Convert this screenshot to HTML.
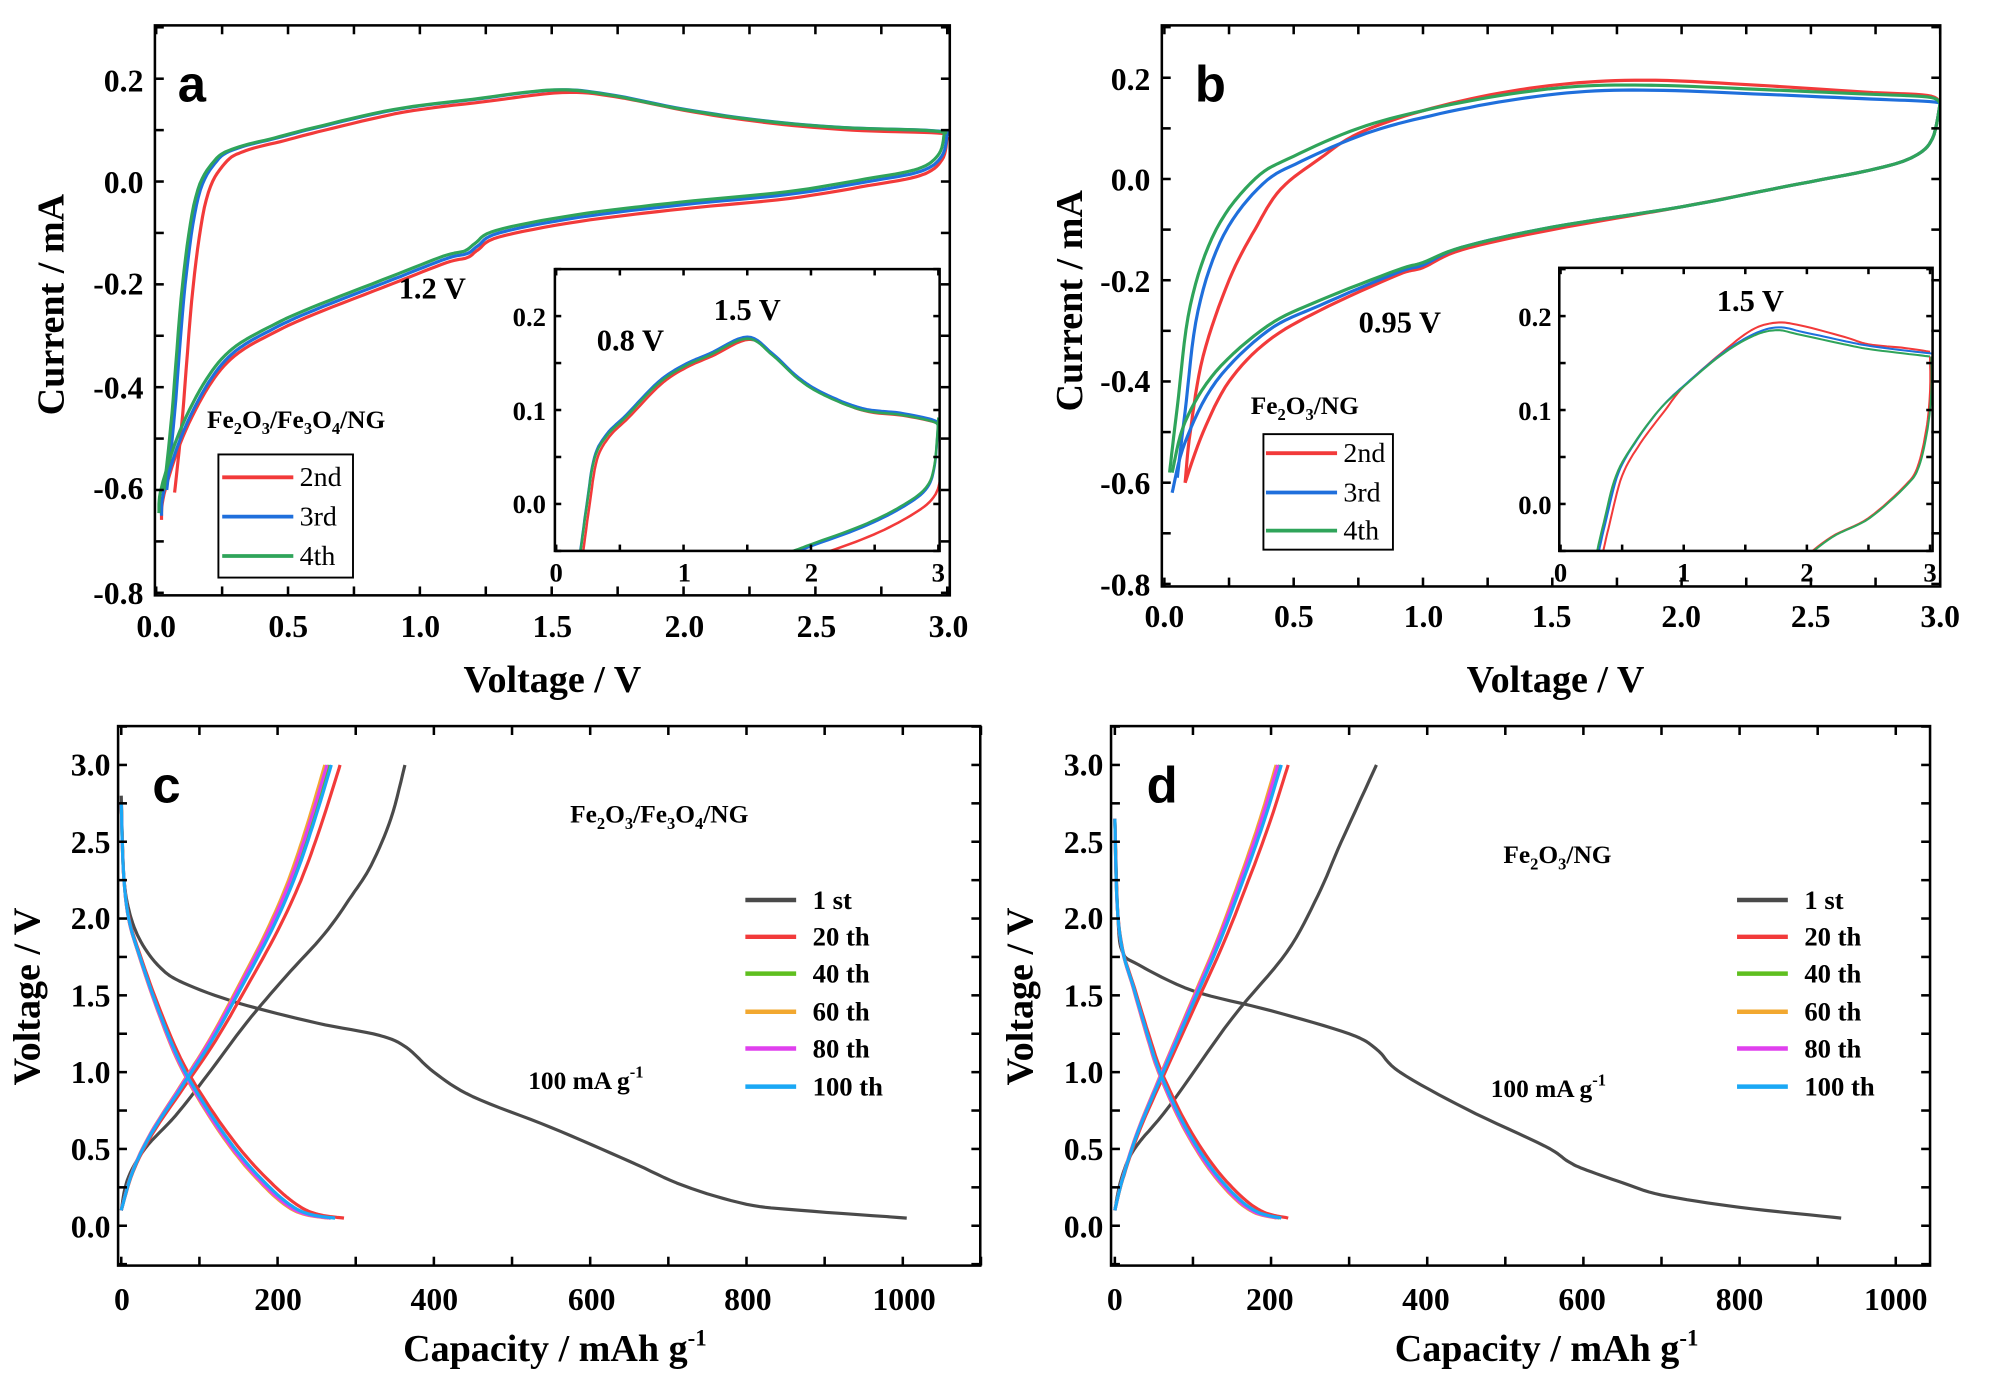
<!DOCTYPE html>
<html><head><meta charset="utf-8"><style>
html,body{margin:0;padding:0;background:#fff;}
svg{display:block;}
text{font-family:"Liberation Serif",serif;font-weight:bold;fill:#000;}
.sans{font-family:"Liberation Sans",sans-serif;}
</style></head><body>
<svg id="s" width="1991" height="1390" viewBox="0 0 1568 1095" preserveAspectRatio="none" xmlns="http://www.w3.org/2000/svg">
<g id="curves"></g>
<g id="axes" fill="none" stroke="#000" stroke-width="2"></g>
<g font-size="25" text-anchor="end">
<text x="113" y="72">0.2</text><text x="113" y="152">0.0</text><text x="113" y="232">-0.2</text><text x="113" y="314">-0.4</text><text x="113" y="393">-0.6</text><text x="113" y="476">-0.8</text>
<text x="906" y="71">0.2</text><text x="906" y="150">0.0</text><text x="906" y="230">-0.2</text><text x="906" y="309">-0.4</text><text x="906" y="389">-0.6</text><text x="906" y="469">-0.8</text>
<text x="87" y="611">3.0</text><text x="87" y="672">2.5</text><text x="87" y="732">2.0</text><text x="87" y="793">1.5</text><text x="87" y="853">1.0</text><text x="87" y="914">0.5</text><text x="87" y="975">0.0</text>
<text x="869" y="611">3.0</text><text x="869" y="672">2.5</text><text x="869" y="732">2.0</text><text x="869" y="793">1.5</text><text x="869" y="853">1.0</text><text x="869" y="914">0.5</text><text x="869" y="975">0.0</text>
</g>
<g font-size="25" text-anchor="middle">
<text x="123" y="502">0.0</text><text x="227" y="502">0.5</text><text x="331" y="502">1.0</text><text x="435" y="502">1.5</text><text x="539" y="502">2.0</text><text x="643" y="502">2.5</text><text x="747" y="502">3.0</text>
<text x="917" y="494">0.0</text><text x="1019" y="494">0.5</text><text x="1121" y="494">1.0</text><text x="1222" y="494">1.5</text><text x="1324" y="494">2.0</text><text x="1426" y="494">2.5</text><text x="1528" y="494">3.0</text>
<text x="96" y="1032">0</text><text x="219" y="1032">200</text><text x="342" y="1032">400</text><text x="466" y="1032">600</text><text x="589" y="1032">800</text><text x="712" y="1032">1000</text>
<text x="878" y="1032">0</text><text x="1000" y="1032">200</text><text x="1123" y="1032">400</text><text x="1246" y="1032">600</text><text x="1370" y="1032">800</text><text x="1493" y="1032">1000</text>
</g>
<g font-size="21" text-anchor="end">
<text x="430" y="257">0.2</text><text x="430" y="331">0.1</text><text x="430" y="404">0.0</text>
<text x="1222" y="257">0.2</text><text x="1222" y="331">0.1</text><text x="1222" y="405">0.0</text>
</g>
<g font-size="21" text-anchor="middle">
<text x="438" y="458">0</text><text x="539" y="458">1</text><text x="639" y="458">2</text><text x="739" y="458">3</text>
<text x="1229" y="458">0</text><text x="1326" y="458">1</text><text x="1423" y="458">2</text><text x="1520" y="458">3</text>
</g>
<g font-size="30" text-anchor="middle">
<text x="435" y="545">Voltage / V</text>
<text x="1225" y="545">Voltage / V</text>
<text x="437" y="1072">Capacity / mAh g<tspan dy="-12" font-size="18">-1</tspan></text>
<text x="1218" y="1072">Capacity / mAh g<tspan dy="-12" font-size="18">-1</tspan></text>
<text transform="translate(50,240) rotate(-90)">Current / mA</text>
<text transform="translate(852,237) rotate(-90)">Current / mA</text>
<text transform="translate(31,785) rotate(-90)">Voltage / V</text>
<text transform="translate(813,785) rotate(-90)">Voltage / V</text>
</g>
<g class="sans" font-size="40">
<text class="sans" x="140" y="80">a</text>
<text class="sans" x="941" y="80">b</text>
<text class="sans" x="120" y="632">c</text>
<text class="sans" x="903" y="632">d</text>
</g>
<g font-size="24">
<text x="314" y="235">1.2 V</text>
<text x="470" y="276">0.8 V</text>
<text x="562" y="252">1.5 V</text>
<text x="1070" y="262">0.95 V</text>
<text x="1352" y="245">1.5 V</text>
</g>
<g font-size="20">
<text x="163" y="337">Fe<tspan dy="5" font-size="13">2</tspan><tspan dy="-5">O</tspan><tspan dy="5" font-size="13">3</tspan><tspan dy="-5">/Fe</tspan><tspan dy="5" font-size="13">3</tspan><tspan dy="-5">O</tspan><tspan dy="5" font-size="13">4</tspan><tspan dy="-5">/NG</tspan></text>
<text x="985" y="326">Fe<tspan dy="5" font-size="13">2</tspan><tspan dy="-5">O</tspan><tspan dy="5" font-size="13">3</tspan><tspan dy="-5">/NG</tspan></text>
<text x="449" y="648">Fe<tspan dy="5" font-size="13">2</tspan><tspan dy="-5">O</tspan><tspan dy="5" font-size="13">3</tspan><tspan dy="-5">/Fe</tspan><tspan dy="5" font-size="13">3</tspan><tspan dy="-5">O</tspan><tspan dy="5" font-size="13">4</tspan><tspan dy="-5">/NG</tspan></text>
<text x="1184" y="680">Fe<tspan dy="5" font-size="13">2</tspan><tspan dy="-5">O</tspan><tspan dy="5" font-size="13">3</tspan><tspan dy="-5">/NG</tspan></text>
<text x="416" y="858">100 mA g<tspan dy="-9" font-size="13">-1</tspan></text>
<text x="1174" y="864">100 mA g<tspan dy="-9" font-size="13">-1</tspan></text>
</g>
<g font-size="22">
<text x="236" y="383" style="font-weight:normal">2nd</text><text x="236" y="414" style="font-weight:normal">3rd</text><text x="236" y="445" style="font-weight:normal">4th</text>
<text x="1058" y="364" style="font-weight:normal">2nd</text><text x="1058" y="395" style="font-weight:normal">3rd</text><text x="1058" y="425" style="font-weight:normal">4th</text>
</g>
<g font-size="21">
<text x="640" y="716">1 st</text><text x="640" y="745">20 th</text><text x="640" y="774">40 th</text><text x="640" y="804">60 th</text><text x="640" y="833">80 th</text><text x="640" y="863">100 th</text>
<text x="1421" y="716">1 st</text><text x="1421" y="745">20 th</text><text x="1421" y="774">40 th</text><text x="1421" y="804">60 th</text><text x="1421" y="833">80 th</text><text x="1421" y="863">100 th</text>
</g>
</svg>
<script>
var NS="http://www.w3.org/2000/svg";
var C=document.getElementById('curves'),A=document.getElementById('axes');
function el(p,tag,at){var e=document.createElementNS(NS,tag);for(var k in at)e.setAttribute(k,at[k]);p.appendChild(e);return e;}
function mk(x0,x1,d0,d1,y0,y1,e0,e1){return function(p){return [x0+(p[0]-d0)/(d1-d0)*(x1-x0),y0+(p[1]-e0)/(e1-e0)*(y1-y0)];};}
function cr(pts,n){var o=[];for(var i=0;i<pts.length-1;i++){var p0=pts[Math.max(i-1,0)],p1=pts[i],p2=pts[i+1],p3=pts[Math.min(i+2,pts.length-1)];for(var t=0;t<n;t++){var s=t/n,s2=s*s,s3=s2*s;o.push([0.5*((2*p1[0])+(-p0[0]+p2[0])*s+(2*p0[0]-5*p1[0]+4*p2[0]-p3[0])*s2+(-p0[0]+3*p1[0]-3*p2[0]+p3[0])*s3),0.5*((2*p1[1])+(-p0[1]+p2[1])*s+(2*p0[1]-5*p1[1]+4*p2[1]-p3[1])*s2+(-p0[1]+3*p1[1]-3*p2[1]+p3[1])*s3)]);}}o.push(pts[pts.length-1]);return o;}
function line(T,pts,col,w,clip){var q=cr(pts,8).map(T);el(C,'polyline',{points:q.map(function(p){return p[0].toFixed(1)+','+p[1].toFixed(1)}).join(' '),fill:'none',stroke:col,'stroke-width':w||2.5,'stroke-linejoin':'round','clip-path':clip?('url(#'+clip+')'):''});}
function sh(pts,dx,dy){return pts.map(function(p){return [p[0]+dx,p[1]+dy];});}
function frame(x,y,w,h){el(A,'rect',{x:x,y:y,width:w,height:h});}
function ticks(T,xs,ys,x0,x1,y0,y1,len){xs.forEach(function(v){var p=T([v,0])[0];el(A,'line',{x1:p,y1:y1,x2:p,y2:y1-len[0]});el(A,'line',{x1:p,y1:y0,x2:p,y2:y0+len[0]});});
 ys.forEach(function(v){var p=T([0,v])[1];el(A,'line',{x1:x0,y1:p,x2:x0+len[0],y2:p});el(A,'line',{x1:x1,y1:p,x2:x1-len[0],y2:p});});}
var defs=el(document.getElementById('s'),'defs',{});
function clip(id,x,y,w,h){var c=el(defs,'clipPath',{id:id});el(c,'rect',{x:x,y:y,width:w,height:h});}
function rng(a,b,s){var o=[];for(var v=a;v<=b+1e-9;v+=s)o.push(+v.toFixed(4));return o;}
var RED='#f23a3a',BLU='#1f6fdc',GRN='#2fa45a';
var Ta=mk(123,746,0,3,143,467,0,-0.8);
clip('ca',122,20,626,449);
var aUp=[[0.03,-0.6],[0.06,-0.45],[0.1,-0.2],[0.15,-0.03],[0.22,0.04],[0.3,0.065],[0.45,0.085],[0.6,0.105],[0.9,0.14],[1.2,0.16],[1.5,0.178],[1.7,0.17],[2.0,0.14],[2.3,0.118],[2.6,0.105],[2.9,0.1],[3.0,0.095]];
var aDn=[[3.0,0.095],[2.98,0.05],[2.9,0.02],[2.7,0.0],[2.4,-0.025],[2.0,-0.045],[1.6,-0.07],[1.3,-0.1],[1.22,-0.125],[1.18,-0.14],[1.1,-0.15],[0.9,-0.19],[0.6,-0.25],[0.45,-0.285],[0.3,-0.33],[0.2,-0.39],[0.1,-0.49],[0.03,-0.6],[0.02,-0.65]];
line(Ta,sh(aUp,0.04,-0.005),RED,2.5,'ca');line(Ta,sh(aDn,0,-0.008),RED,2.5,'ca');
line(Ta,sh(aUp,0.01,0),BLU,2.5,'ca');line(Ta,aDn,BLU,2.5,'ca');
line(Ta,aUp,GRN,2.5,'ca');line(Ta,sh(aDn,-0.01,0.005),GRN,2.5,'ca');
frame(122,20,626,449);
ticks(Ta,rng(0,3,0.25),rng(-0.8,0.3,0.1),122,748,20,469,[7]);
var Ti=mk(438,739,0,3,397,323,0,0.1);
clip('cia',437,212,303,222);
el(C,'rect',{x:437,y:212,width:303,height:222,fill:'#fff'});
var iUp=[[0.18,-0.06],[0.24,0.0],[0.3,0.05],[0.4,0.075],[0.55,0.095],[0.8,0.13],[1.0,0.148],[1.2,0.16],[1.5,0.178],[1.7,0.16],[1.9,0.135],[2.1,0.118],[2.4,0.102],[2.7,0.097],[2.95,0.09],[3.0,0.085]];
var iDn=[[3.0,0.09],[2.97,0.04],[2.9,0.015],[2.7,-0.005],[2.4,-0.025],[2.0,-0.045],[1.8,-0.055]];
line(Ti,sh(iUp,0.02,-0.003),RED,2,'cia');line(Ti,sh(iDn,0.05,-0.01),RED,2,'cia');
line(Ti,iUp,BLU,2,'cia');line(Ti,iDn,BLU,2,'cia');
line(Ti,sh(iUp,0,-0.002),GRN,2,'cia');line(Ti,sh(iDn,0,0.002),GRN,2,'cia');
frame(437,212,303,222);
ticks(Ti,rng(0,3,0.5),rng(-0.05,0.25,0.05),437,740,212,434,[5]);
el(A,'rect',{x:172,y:358,width:106,height:97,'stroke-width':1.5});
[[376,RED],[407,BLU],[438,GRN]].forEach(function(r){el(A,'line',{x1:175,y1:r[0],x2:231,y2:r[0],stroke:r[1],'stroke-width':3});});
var Tb=mk(917,1528,0,3,141,460,0,-0.8);
clip('cb',915,20,613,442);
var bUp=[[0.02,-0.58],[0.05,-0.45],[0.1,-0.25],[0.2,-0.1],[0.35,0.0],[0.5,0.045],[0.75,0.1],[1.0,0.135],[1.3,0.165],[1.6,0.183],[1.9,0.185],[2.3,0.177],[2.7,0.168],[2.95,0.162],[3.0,0.15]];
var bDn=[[3.0,0.15],[2.97,0.08],[2.9,0.045],[2.75,0.02],[2.4,-0.015],[2.0,-0.055],[1.5,-0.095],[1.15,-0.135],[1.0,-0.165],[0.9,-0.18],[0.6,-0.24],[0.4,-0.29],[0.2,-0.38],[0.08,-0.48],[0.03,-0.58]];
line(Tb,[[0.08,-0.6],[0.1,-0.5],[0.15,-0.35],[0.25,-0.2],[0.35,-0.1],[0.45,-0.02],[0.6,0.04],[0.75,0.09],[1.0,0.135],[1.3,0.17],[1.6,0.19],[1.9,0.195],[2.3,0.185],[2.7,0.172],[2.95,0.165],[3.0,0.15]],RED,2.5,'cb');
line(Tb,[[3.0,0.15],[2.97,0.08],[2.9,0.045],[2.75,0.02],[2.4,-0.015],[2.0,-0.055],[1.5,-0.1],[1.15,-0.14],[1.0,-0.175],[0.9,-0.19],[0.6,-0.26],[0.4,-0.32],[0.25,-0.4],[0.15,-0.5],[0.08,-0.6]],RED,2.5,'cb');
line(Tb,sh(bUp,0.03,-0.01),BLU,2.5,'cb');line(Tb,[[3.0,0.15],[2.97,0.08],[2.9,0.045],[2.75,0.02],[2.4,-0.015],[2.0,-0.055],[1.5,-0.095],[1.15,-0.135],[1.0,-0.17],[0.9,-0.185],[0.6,-0.25],[0.4,-0.3],[0.2,-0.4],[0.08,-0.52],[0.03,-0.62]],BLU,2.5,'cb');
line(Tb,bUp,GRN,2.5,'cb');line(Tb,bDn,GRN,2.5,'cb');
frame(915,20,613,442);
ticks(Tb,rng(0,3,0.25),rng(-0.8,0.3,0.1),915,1528,20,462,[7]);
var Tj=mk(1229,1520,0,3,397,323,0,0.1);
clip('cib',1228,211,294,223);
el(C,'rect',{x:1228,y:211,width:294,height:223,fill:'#fff'});
var jUp=[[0.28,-0.06],[0.35,-0.02],[0.45,0.03],[0.6,0.065],[0.8,0.1],[1.0,0.125],[1.3,0.158],[1.55,0.178],[1.75,0.185],[1.95,0.18],[2.3,0.17],[2.5,0.165],[2.8,0.16],[3.0,0.157]];
var jDn=[[3.0,0.157],[3.0,0.12],[2.97,0.08],[2.9,0.04],[2.8,0.02],[2.5,-0.015],[2.2,-0.035],[1.95,-0.06]];
line(Tj,[[0.33,-0.06],[0.4,-0.02],[0.5,0.03],[0.65,0.065],[0.85,0.1],[1.0,0.125],[1.3,0.16],[1.55,0.185],[1.75,0.193],[1.95,0.19],[2.3,0.178],[2.5,0.17],[2.8,0.166],[3.0,0.162]],RED,1.6,'cib');
line(Tj,sh(jUp,0.02,0.003),BLU,1.6,'cib');line(Tj,jUp,GRN,1.6,'cib');
line(Tj,jDn,RED,1.6,'cib');line(Tj,sh(jDn,0.01,0),GRN,1.6,'cib');
frame(1228,211,294,223);
ticks(Tj,rng(0,3,0.5),rng(-0.05,0.25,0.05),1228,1522,211,434,[5]);
el(A,'rect',{x:995,y:342,width:102,height:91,'stroke-width':1.5});
[[357,RED],[388,BLU],[418,GRN]].forEach(function(r){el(A,'line',{x1:997,y1:r[0],x2:1053,y2:r[0],stroke:r[1],'stroke-width':3});});
var GC=['#4a4a4a','#f23a3a','#5fbf1f','#f2a830','#e040ee','#1aa8f5'];
var Tc=mk(95.5,711,0,1000,965.6,602.6,0,3);
line(Tc,[[0,2.8],[3,2.3],[10,2.05],[25,1.85],[50,1.68],[80,1.58],[150,1.45],[250,1.32],[330,1.24],[365,1.16],[400,1.0],[450,0.84],[550,0.64],[650,0.42],[720,0.26],[800,0.14],[870,0.1],[1005,0.05]],GC[0],2.5);
line(Tc,[[0,0.1],[8,0.3],[30,0.5],[70,0.72],[110,0.98],[160,1.32],[210,1.62],[260,1.9],[295,2.15],[320,2.35],[345,2.65],[363,3.0]],GC[0],2.5);
var cD=[[0,2.75],[3,2.3],[10,2.0],[25,1.75],[50,1.4],[80,1.05],[120,0.72],[160,0.45],[200,0.24],[230,0.12],[255,0.07],[285,0.05]];
var cC=[[0,0.1],[15,0.35],[40,0.6],[80,0.9],[120,1.2],[160,1.55],[200,1.92],[230,2.25],[255,2.6],[280,3.0]];
[1,2,3,4,5].forEach(function(i){var k=[1,0.95,0.93,0.94,0.96][i-1];var kd=[1,0.94,0.93,0.94,0.96][i-1];
line(Tc,cD.map(function(p){return [p[0]*kd,p[1]];}),GC[i],2.5);line(Tc,cC.map(function(p){return [p[0]*k,p[1]];}),GC[i],2.5);});
frame(93,572,679,425);
ticks(Tc,rng(0,1100,100),rng(-0.25,3.25,0.25),93,772,572,997,[7]);
var Td=mk(878,1493,0,1000,965.6,602.6,0,3);
line(Td,[[0,2.65],[4,2.0],[10,1.78],[30,1.7],[100,1.53],[200,1.4],[300,1.25],[335,1.15],[365,1.0],[450,0.76],[550,0.52],[580,0.42],[600,0.37],[650,0.28],[700,0.2],[800,0.12],[930,0.05]],GC[0],2.5);
line(Td,[[0,0.1],[8,0.3],[25,0.5],[70,0.78],[150,1.35],[220,1.78],[260,2.15],[290,2.5],[335,3.0]],GC[0],2.5);
var dD=[[0,2.65],[3,2.1],[10,1.8],[25,1.55],[45,1.22],[60,1.0],[90,0.68],[125,0.4],[160,0.2],[190,0.09],[222,0.05]];
var dC=[[0,0.1],[10,0.3],[30,0.6],[60,0.95],[100,1.4],[140,1.85],[175,2.3],[200,2.65],[222,3.0]];
[1,2,3,4,5].forEach(function(i){var k=[1,0.95,0.93,0.94,0.96][i-1];
line(Td,dD.map(function(p){return [p[0]*k,p[1]];}),GC[i],2.5);line(Td,dC.map(function(p){return [p[0]*k,p[1]];}),GC[i],2.5);});
frame(875,572,645,425);
ticks(Td,rng(0,1050,100),rng(-0.25,3.25,0.25),875,1520,572,997,[7]);
[709,738,767,797,826,856].forEach(function(y,i){el(A,'line',{x1:587,y1:y,x2:627,y2:y,stroke:GC[i],'stroke-width':3.5});el(A,'line',{x1:1368,y1:y,x2:1408,y2:y,stroke:GC[i],'stroke-width':3.5});});
</script>
</body></html>
